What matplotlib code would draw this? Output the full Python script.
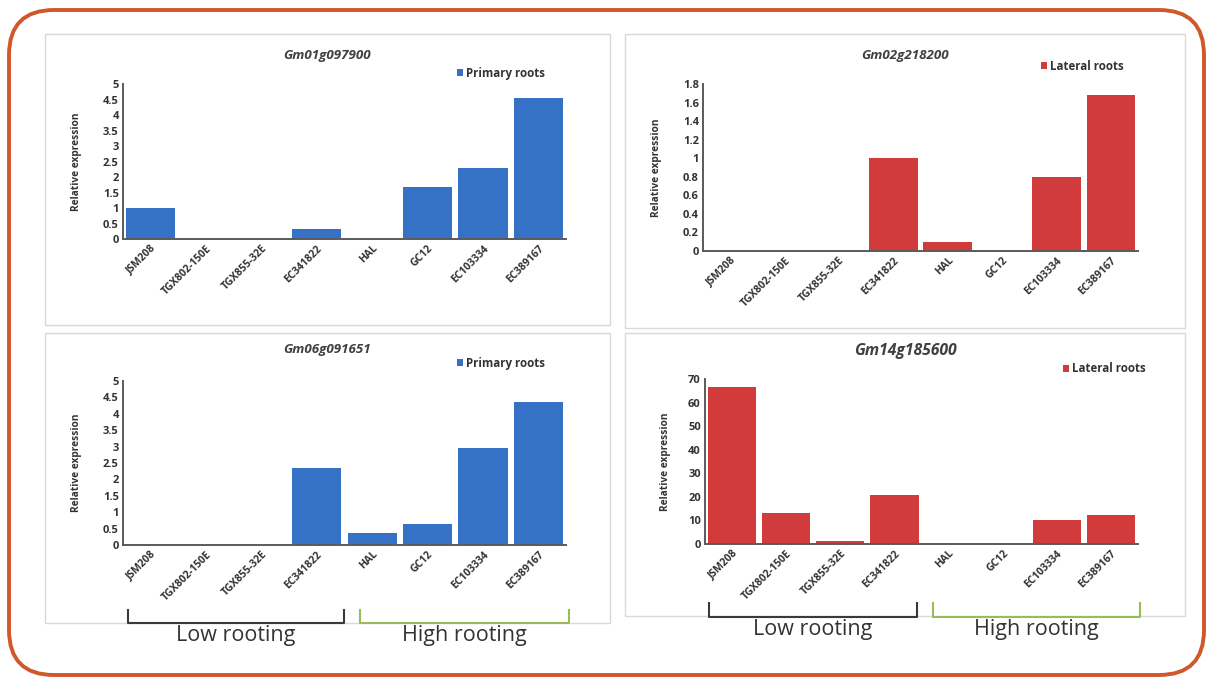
import numpy as np
import matplotlib.pyplot as plt
from matplotlib.patches import FancyBboxPatch, Rectangle
from matplotlib.lines import Line2D

plt.rcParams['font.family'] = ['Open Sans', 'DejaVu Sans']

W, H = 1215, 679

genotipos = ['JSM208', 'TGX802-150E', 'TGX855-32E', 'EC341822',
             'HAL', 'GC12', 'EC103334', 'EC389167']

gm01_primary = [1.0, 0, 0, 0.32, 0, 1.68, 2.29, 4.56]
gm02_lateral = [0, 0, 0, 1.0, 0.1, 0, 0.8, 1.68]
gm06_primary = [0, 0, 0, 2.36, 0.37, 0.64, 2.95, 4.36]
gm14_lateral = [66.6, 13.0, 1.3, 20.6, 0, 0, 10.3, 12.4]

ticks_5 = [0, 0.5, 1, 1.5, 2, 2.5, 3, 3.5, 4, 4.5, 5]
labels_5 = ['0', '0.5', '1', '1.5', '2', '2.5', '3', '3.5', '4', '4.5', '5']
ticks_18 = [0, 0.2, 0.4, 0.6, 0.8, 1, 1.2, 1.4, 1.6, 1.8]
labels_18 = ['0', '0.2', '0.4', '0.6', '0.8', '1', '1.2', '1.4', '1.6', '1.8']
ticks_70 = [0, 10, 20, 30, 40, 50, 60, 70]

AZUL = '#3572c6'
ROJO = '#d13b3b'
EJE = '#5a5a5a'


def caja(x0, y0, x1, y1):
    # pixel box -> figure fraction
    return [x0 / W, 1 - y1 / H, (x1 - x0) / W, (y1 - y0) / H]


fig = plt.figure(figsize=(W / 100, H / 100), dpi=100)

fondo = fig.add_axes([0, 0, 1, 1])
fondo.set_xlim(0, W)
fondo.set_ylim(H, 0)
fondo.axis('off')

# outer rounded frame
fondo.add_patch(FancyBboxPatch((9, 10), W - 20, H - 14,
                               boxstyle='round,pad=0,rounding_size=45',
                               fill=False, ec='#d0582a', lw=2.8))

# panel frames
for (x0, y0, x1, y1) in [(45, 34, 610, 325), (625, 34, 1185, 328),
                         (45, 333, 610, 623), (625, 333, 1185, 616)]:
    fondo.add_patch(Rectangle((x0, y0), x1 - x0, y1 - y0, fill=False,
                              ec='#d9d9d9', lw=1.0))


def graficar_barras(pos, valores, color, titulo, tam_titulo, serie,
                    ticks, ticklabels, ymax, pos_titulo, pos_leyenda, xlab):
    ax = fig.add_axes(caja(*pos))
    ax.set_facecolor('none')
    x = np.arange(len(genotipos))
    ax.bar(x, valores, width=0.89, color=color, label=serie)
    ax.set_xlim(-0.5, len(genotipos) - 0.5)
    ax.set_ylim(0, ymax)
    ax.set_yticks(ticks)
    ax.set_yticklabels(ticklabels, fontsize=8, fontweight='bold', color='#333333')
    ax.set_xticks(x)
    ax.set_xticklabels(genotipos, rotation=45, ha='right', rotation_mode='anchor',
                       fontsize=7.5, fontweight='bold', color='#333333')
    ax.tick_params(axis='both', length=0, pad=3)
    for s in ['top', 'right']:
        ax.spines[s].set_visible(False)
    for s in ['left', 'bottom']:
        ax.spines[s].set_color(EJE)
        ax.spines[s].set_linewidth(1.4)
    ax.set_ylabel('Relative expression', fontsize=7.3, fontweight='bold', color='#333333')
    ax.yaxis.set_label_coords(xlab, 0.5)
    fondo.text(pos_titulo[0], pos_titulo[1], titulo, ha='center', va='center',
               fontsize=tam_titulo, fontstyle='italic', fontweight='bold', color='#404040')
    ax.legend(loc='center left', bbox_to_anchor=(pos_leyenda[0] / W, 1 - pos_leyenda[1] / H),
              bbox_transform=fig.transFigure, frameon=False, borderpad=0,
              borderaxespad=0, handlelength=0.5, handleheight=0.5, handletextpad=0.3,
              prop={'size': 8.3, 'weight': 'bold'}, labelcolor='#333333')
    return ax


graficar_barras((123, 84, 566, 239), gm01_primary, AZUL, 'Gm01g097900', 9.6,
                'Primary roots', ticks_5, labels_5, 5, (327, 55), (457, 73), -0.093)
graficar_barras((703, 84, 1138, 251), gm02_lateral, ROJO, 'Gm02g218200', 9.6,
                'Lateral roots', ticks_18, labels_18, 1.8, (905, 55), (1041, 66), -0.094)
graficar_barras((123, 381, 566, 545), gm06_primary, AZUL, 'Gm06g091651', 9.6,
                'Primary roots', ticks_5, labels_5, 5, (327, 349), (457, 363), -0.093)
graficar_barras((705, 379, 1138, 544), gm14_lateral, ROJO, 'Gm14g185600', 11.3,
                'Lateral roots', ticks_70, [str(t) for t in ticks_70], 70, (905, 351),
                (1063, 369), -0.079)


def corchete(x0, x1, y_base, y_top, color, texto, y_texto):
    fondo.add_line(Line2D([x0, x0, x1, x1], [y_top, y_base, y_base, y_top],
                          color=color, lw=1.5))
    fondo.text((x0 + x1) / 2, y_texto, texto, ha='center', va='center',
               fontsize=15.5, color='#333333')


corchete(128, 344, 623, 610, '#3a3a3a', 'Low rooting', 635)
corchete(360, 569, 623, 610, '#9bbb59', 'High rooting', 635)
corchete(709, 917, 617, 603, '#3a3a3a', 'Low rooting', 630)
corchete(933, 1140, 617, 603, '#9bbb59', 'High rooting', 630)

fig.savefig('out.png', dpi=100, facecolor='white')
